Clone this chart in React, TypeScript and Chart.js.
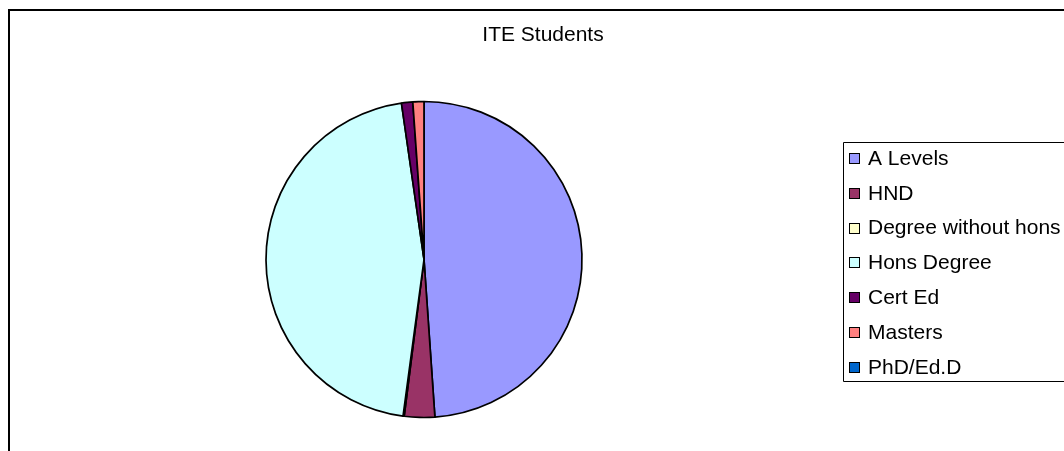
import React, { useEffect, useRef } from "react";
import { Chart, registerables } from "chart.js";

Chart.register(...registerables);

const TITLE = "ITE Students";
const categories = [
  "A Levels",
  "HND",
  "Degree without hons",
  "Hons Degree",
  "Cert Ed",
  "Masters",
  "PhD/Ed.D",
];
const values = [48.9, 3.1, 0.12, 45.6, 1.15, 1.13, 0];
const colors = ["#9999FF", "#993366", "#FFFFCC", "#CCFFFF", "#660066", "#FF8080", "#0066CC"];

const FONT = "'Liberation Sans', Arial, sans-serif";
const W = 1054;
const H = 440;

const decorPlugin = {
  id: "decor",
  afterDraw(chart: any) {
    const ctx = chart.ctx;
    ctx.save();
    // title
    ctx.fillStyle = "#000";
    ctx.font = `21px ${FONT}`;
    ctx.textAlign = "center";
    ctx.textBaseline = "alphabetic";
    ctx.fillText(TITLE, 533, 30);

    // legend box (open to the right, runs off the canvas)
    ctx.strokeStyle = "#000";
    ctx.lineWidth = 1;
    ctx.beginPath();
    ctx.moveTo(W, 131.5);
    ctx.lineTo(833.5, 131.5);
    ctx.lineTo(833.5, 370.5);
    ctx.lineTo(W, 370.5);
    ctx.stroke();

    const labels = chart.data.labels as string[];
    const bg = chart.data.datasets[0].backgroundColor as string[];
    ctx.font = `21px ${FONT}`;
    ctx.textAlign = "left";
    ctx.textBaseline = "middle";
    labels.forEach((lab, i) => {
      const cy = 147 + i * 34.8;
      const top = Math.round(cy - 5);
      ctx.fillStyle = bg[i];
      ctx.fillRect(839, top, 11, 11);
      ctx.strokeStyle = "#000";
      ctx.lineWidth = 1;
      ctx.strokeRect(839.5, top + 0.5, 10, 10);
      ctx.fillStyle = "#000";
      ctx.fillText(lab, 858, cy + 1);
    });
    ctx.restore();
  },
};

export default function App() {
  const ref = useRef<HTMLCanvasElement>(null);
  useEffect(() => {
    if (!ref.current) return;
    const chart = new Chart(ref.current, {
      type: "pie",
      data: {
        labels: categories,
        datasets: [
          {
            data: values,
            backgroundColor: colors,
            borderColor: "#000",
            borderWidth: 1.7,
          },
        ],
      },
      options: {
        responsive: false,
        animation: false,
        devicePixelRatio: 1,
        radius: 158,
        layout: { padding: { top: 67, bottom: 10, left: 0, right: 226 } },
        plugins: {
          legend: { display: false },
          title: { display: false },
          tooltip: { enabled: false },
        },
      } as any,
      plugins: [decorPlugin],
    });
    return () => chart.destroy();
  }, []);
  return (
    <div
      style={{
        position: "fixed",
        left: 8,
        top: 9,
        borderTop: "2px solid #000",
        borderLeft: "2px solid #000",
        width: W,
        height: H,
        background: "#fff",
        overflow: "hidden",
      }}
    >
      <canvas
        ref={ref}
        width={W}
        height={H}
        style={{ display: "block", width: W, height: H }}
      />
    </div>
  );
}
